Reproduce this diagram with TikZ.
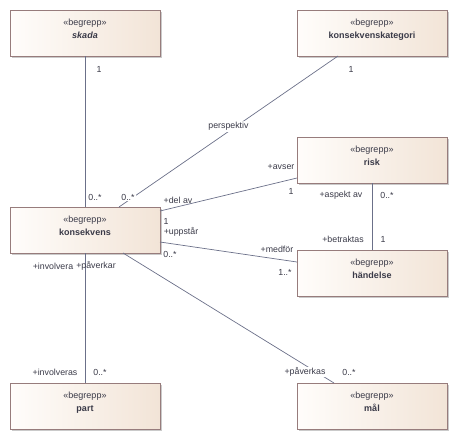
\documentclass[tikz,border=0pt]{standalone}
\usepackage{fontspec}
\setmainfont{Liberation Sans}
\usetikzlibrary{positioning,shadows}
\definecolor{cEdge}{HTML}{977C7C}
\definecolor{cFillL}{HTML}{FFFDFB}
\definecolor{cFillR}{HTML}{F2E4D7}
\definecolor{cLine}{HTML}{6B7089}
\definecolor{cText}{HTML}{3A3A48}
\tikzset{
  concept/.style={draw=cEdge, line width=0.8pt, left color=cFillL, right color=cFillR,
                  minimum width=150pt, minimum height=46pt, inner sep=0pt, outer sep=0pt,
                  align=center, text=cText, font=\fontsize{9}{13}\selectfont, text depth=9pt,
                  drop shadow={shadow xshift=2pt, shadow yshift=-2pt, fill=black!35, opacity=0.6}},
  assoc/.style={draw=cLine, line width=0.7pt},
  lbl/.style={font=\fontsize{8.8}{10}\selectfont, text=cText, inner sep=1pt},
  gap/.style={lbl, fill=white},
}
\newcommand{\stereo}{«begrepp»}

\begin{document}
\begin{tikzpicture}
  \useasboundingbox (0,0) rectangle (458pt,-440pt);
  \node[concept] (skada) at (85pt,-33pt) {\stereo\\\textbf{\textit{skada}}};
  \node[concept, right=137pt of skada] (kategori) {\stereo\\\textbf{konsekvenskategori}};
  \node[concept, below=151pt of skada] (konsekvens) {\stereo\\\textbf{konsekvens}};
  \node[concept, below=81pt of kategori] (risk) {\stereo\\\textbf{risk}};
  \node[concept, below=67pt of risk] (handelse) {\stereo\\\textbf{händelse}};
  \node[concept, below=130pt of konsekvens] (part) {\stereo\\\textbf{part}};
  \node[concept, below=87pt of handelse] (mal) {\stereo\\\textbf{mål}};

  \draw[assoc] (skada) -- (konsekvens)
    node[lbl, at start, shift={(14pt,-13pt)}] {1}
    node[lbl, at end, shift={(10pt,10pt)}] {0..*};
  \draw[assoc] ([xshift=-34pt]kategori.south) -- ([xshift=34pt]konsekvens.north)
    node[lbl, at start, shift={(13pt,-13pt)}] {1}
    node[gap, midway, yshift=5pt] {perspektiv}
    node[gap, at end, shift={(9pt,10pt)}] {0..*};
  \draw[assoc] ([yshift=19pt]konsekvens.east) -- ([yshift=-18pt]risk.west)
    node[lbl, at start, shift={(18pt,11pt)}] {+del av}
    node[lbl, at start, shift={(6pt,-10.5pt)}] {1}
    node[lbl, at end, shift={(-16pt,11pt)}] {+avser}
    node[lbl, at end, shift={(-6pt,-13pt)}] {1};
  \draw[assoc] ([yshift=-12pt]konsekvens.east) -- ([yshift=11pt]handelse.west)
    node[lbl, at start, shift={(21pt,10.5pt)}] {+uppstår}
    node[lbl, at start, shift={(10pt,-12pt)}] {0..*}
    node[lbl, at end, shift={(-20pt,13pt)}] {+medför}
    node[lbl, at end, shift={(-12pt,-10pt)}] {1..*};
  \draw[assoc] (risk) -- (handelse)
    node[lbl, at start, shift={(-31pt,-12pt)}] {+aspekt av}
    node[lbl, at start, shift={(15pt,-12pt)}] {0..*}
    node[lbl, at end, shift={(-29pt,11pt)}] {+betraktas}
    node[lbl, at end, shift={(11pt,11pt)}] {1};
  \draw[assoc] (konsekvens) -- (part)
    node[lbl, at start, shift={(-32pt,-13pt)}] {+involvera}
    node[lbl, at end, shift={(-30pt,11pt)}] {+involveras}
    node[lbl, at end, shift={(15pt,11pt)}] {0..*};
  \draw[assoc] ([xshift=38pt]konsekvens.south) -- ([xshift=-38pt]mal.north)
    node[lbl, at start, shift={(-27pt,-13pt)}] {+påverkar}
    node[gap, at end, shift={(-29pt,11pt)}] {+påverkas}
    node[lbl, at end, shift={(15pt,11pt)}] {0..*};
\end{tikzpicture}
\end{document}
